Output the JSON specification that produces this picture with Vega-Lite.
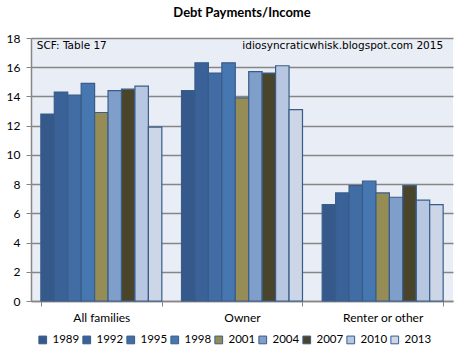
{
  "$schema": "https://vega.github.io/schema/vega-lite/v6.json",
  "width": 422,
  "height": 263,
  "autosize": {"type": "none"},
  "padding": {"left": 31, "top": 38, "right": 13, "bottom": 58},
  "background": "white",
  "title": {"text": "Debt Payments/Income", "font": "Lato", "fontSize": 13, "fontWeight": "bold", "color": "#000000", "anchor": "middle", "offset": 12},
  "config": {
    "view": {"fill": "#E9EDF5", "stroke": null},
    "font": "Lato",
    "axis": {"labelFont": "Lato", "labelFontSize": 12, "labelColor": "#000000", "domainColor": "#868686", "tickColor": "#868686", "titleFontSize": 12}
  },
  "datasets": {
    "bars": [
      {"group": "All families", "year": "1989", "value": 12.8},
      {"group": "All families", "year": "1992", "value": 14.3},
      {"group": "All families", "year": "1995", "value": 14.1},
      {"group": "All families", "year": "1998", "value": 14.9},
      {"group": "All families", "year": "2001", "value": 12.9},
      {"group": "All families", "year": "2004", "value": 14.4},
      {"group": "All families", "year": "2007", "value": 14.5},
      {"group": "All families", "year": "2010", "value": 14.7},
      {"group": "All families", "year": "2013", "value": 11.9},
      {"group": "Owner", "year": "1989", "value": 14.4},
      {"group": "Owner", "year": "1992", "value": 16.3},
      {"group": "Owner", "year": "1995", "value": 15.6},
      {"group": "Owner", "year": "1998", "value": 16.3},
      {"group": "Owner", "year": "2001", "value": 13.9},
      {"group": "Owner", "year": "2004", "value": 15.7},
      {"group": "Owner", "year": "2007", "value": 15.6},
      {"group": "Owner", "year": "2010", "value": 16.1},
      {"group": "Owner", "year": "2013", "value": 13.1},
      {"group": "Renter or other", "year": "1989", "value": 6.6},
      {"group": "Renter or other", "year": "1992", "value": 7.4},
      {"group": "Renter or other", "year": "1995", "value": 7.9},
      {"group": "Renter or other", "year": "1998", "value": 8.2},
      {"group": "Renter or other", "year": "2001", "value": 7.4},
      {"group": "Renter or other", "year": "2004", "value": 7.1},
      {"group": "Renter or other", "year": "2007", "value": 7.9},
      {"group": "Renter or other", "year": "2010", "value": 6.9},
      {"group": "Renter or other", "year": "2013", "value": 6.6}
    ],
    "notes": [
      {"group": "All families", "label": "SCF: Table 17", "value": 17.45, "side": "left"},
      {"group": "Renter or other", "label": "idiosyncraticwhisk.blogspot.com  2015", "value": 17.45, "side": "right"}
    ]
  },
  "layer": [
    {
      "data": {"name": "bars"},
      "mark": {"type": "bar", "stroke": "#385D8A", "strokeWidth": 1.2},
      "encoding": {
        "x": {
          "field": "group", "type": "nominal", "sort": null,
          "scale": {"paddingInner": 0.14, "paddingOuter": 0.07},
          "axis": {"title": null, "labelAngle": 0, "tickBand": "extent", "tickSize": 5, "labelPadding": 6, "domainWidth": 1.5}
        },
        "xOffset": {"field": "year", "type": "nominal", "sort": null},
        "y": {
          "field": "value", "type": "quantitative",
          "scale": {"domain": [0, 18], "nice": false},
          "axis": {"title": null, "values": [0, 2, 4, 6, 8, 10, 12, 14, 16, 18], "labelOverlap": false, "grid": true, "gridColor": "#868686", "gridWidth": 1.3, "tickSize": 5, "labelPadding": 6, "domainWidth": 1.5}
        },
        "color": {
          "field": "year", "type": "nominal", "sort": null,
          "scale": {
            "domain": ["1989", "1992", "1995", "1998", "2001", "2004", "2007", "2010", "2013"],
            "range": ["#35598A", "#3A6298", "#416DA4", "#4777B1", "#968C55", "#809ECA", "#4A452A", "#B8C7E1", "#CDD6E7"]
          },
          "legend": {
            "title": null, "orient": "none", "legendX": 6, "legendY": 296, "direction": "horizontal", "columns": 9,
            "symbolType": "square", "symbolSize": 60, "symbolStrokeColor": "#385D8A", "symbolStrokeWidth": 1,
            "labelFontSize": 11.5, "labelFont": "Lato", "labelColor": "#000000",
            "columnPadding": 0, "labelOffset": 4
          }
        }
      }
    },
    {
      "data": {"name": "notes"},
      "transform": [{"filter": "datum.side == 'left'"}],
      "mark": {"type": "text", "align": "left", "baseline": "middle", "font": "DejaVu Sans", "fontSize": 10.5, "color": "#000000", "dx": -4},
      "encoding": {
        "x": {"field": "group", "type": "nominal", "sort": null, "bandPosition": 0,
          "axis": {"title": null, "labelAngle": 0, "tickBand": "extent", "tickSize": 5, "labelPadding": 6, "domainWidth": 1.5}},
        "y": {"field": "value", "type": "quantitative",
          "axis": {"title": null, "values": [0, 2, 4, 6, 8, 10, 12, 14, 16, 18], "labelOverlap": false, "grid": true, "gridColor": "#868686", "gridWidth": 1.3, "tickSize": 5, "labelPadding": 6, "domainWidth": 1.5}},
        "text": {"field": "label"}
      }
    },
    {
      "data": {"name": "notes"},
      "transform": [{"filter": "datum.side == 'right'"}],
      "mark": {"type": "text", "align": "right", "baseline": "middle", "font": "DejaVu Sans", "fontSize": 10.5, "color": "#000000"},
      "encoding": {
        "x": {"field": "group", "type": "nominal", "sort": null, "bandPosition": 1,
          "axis": {"title": null, "labelAngle": 0, "tickBand": "extent", "tickSize": 5, "labelPadding": 6, "domainWidth": 1.5}},
        "y": {"field": "value", "type": "quantitative",
          "axis": {"title": null, "values": [0, 2, 4, 6, 8, 10, 12, 14, 16, 18], "labelOverlap": false, "grid": true, "gridColor": "#868686", "gridWidth": 1.3, "tickSize": 5, "labelPadding": 6, "domainWidth": 1.5}},
        "text": {"field": "label"}
      }
    }
  ]
}
